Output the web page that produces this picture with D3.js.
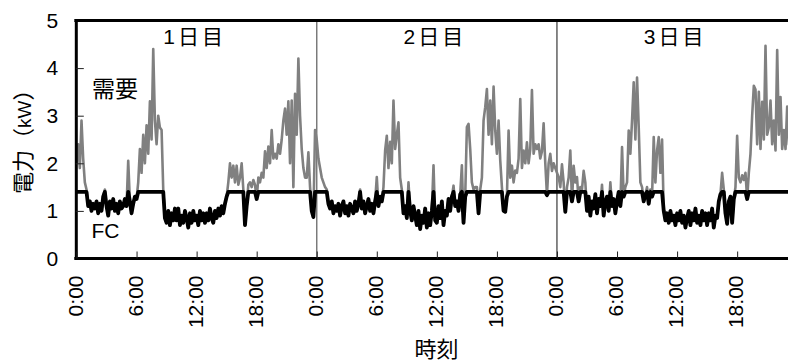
<!DOCTYPE html>
<html>
<head>
<meta charset="utf-8">
<script src="https://cdn.jsdelivr.net/npm/d3@7"></script>
<style>
  html, body { margin: 0; padding: 0; background: #fff; }
  svg { display: block; }
</style>
</head>
<body>
<svg id="chart" width="788" height="361"></svg>
<script>
// ---- data: 10-minute samples (6 per hour), one row per hour ----
const samplesPerHour = 6;
const dayLabels = ["1日目", "2日目", "3日目"];
const hourTicks = [0, 6, 12, 18];
const hourTickLabels = ["0:00", "6:00", "12:00", "18:00"];
const yTicks = [0, 1, 2, 3, 4, 5];
const yTitle = ["電力（", "kW", "）"];
const xTitle = "時刻";
const seriesNames = ["需要", "FC"];

// 需要 (demand), kW
const demandDay1 = [
  2.0, 2.4, 1.9, 2.9, 2.1, 1.6,
  1.45, 1.1, 1.2, 1.0, 1.15, 1.05,
  1.2, 0.95, 1.15, 1.0, 1.3, 1.45,
  1.1, 0.9, 1.2, 1.05, 1.25, 1.0,
  1.15, 0.95, 1.2, 1.05, 1.1, 1.25,
  1.1, 2.05, 1.2, 0.95, 1.15, 1.3,
  1.25, 1.6, 2.3, 1.8, 2.6, 2.0,
  2.8, 2.2, 3.3, 2.5, 4.4, 2.9,
  2.4, 3.0, 2.75, 2.7, 1.45, 0.85,
  0.75, 1.0, 0.7, 0.95, 0.8, 1.05,
  0.8, 1.05, 0.7, 0.9, 0.75, 1.0,
  0.85, 0.65, 0.95, 0.75, 1.0, 0.8,
  0.9, 0.7, 1.0, 0.8, 0.95, 0.75,
  0.95, 0.8, 1.05, 0.85, 0.75, 1.0,
  0.85, 1.05, 0.9, 1.1, 0.95, 1.15,
  1.3, 1.6, 2.0, 1.7, 1.95, 1.6,
  1.95, 1.55, 1.7, 2.0, 1.45, 0.7,
  1.1, 1.55, 1.6, 1.5, 1.65, 1.55,
  1.25, 1.7, 1.6, 1.8, 1.7, 2.25,
  1.9, 2.35, 2.0, 2.7, 2.1, 2.2,
  2.1, 2.4, 2.2, 2.5, 2.9, 3.15,
  2.6, 3.3, 2.0, 3.32, 1.5, 3.46,
  2.6, 4.2, 3.0, 2.3, 1.9, 1.7,
  1.7, 2.23, 1.5, 1.0, 0.87, 2.7
];
const demandDay2 = [
  2.5, 2.1, 1.9, 1.7, 1.6, 1.5,
  1.45, 1.15, 1.05, 1.2, 0.95, 1.1,
  1.0, 1.15, 0.9, 1.1, 1.2, 0.95,
  1.1, 0.9, 1.15, 1.05, 0.95, 1.2,
  1.0, 1.15, 1.45, 1.05, 1.2, 0.95,
  1.1, 1.25, 1.0, 1.15, 0.95, 1.2,
  1.71, 1.1, 1.3, 1.2, 1.5, 2.27,
  2.58, 1.9, 2.45, 2.0, 3.32, 2.3,
  2.6, 2.86, 1.7, 1.45, 0.95, 1.1,
  0.85, 1.6, 1.0, 0.8, 1.1, 0.9,
  0.7, 1.0, 0.62, 0.9, 0.75, 1.05,
  0.65, 0.95, 0.7, 1.0, 1.96, 0.8,
  0.75, 1.1, 0.85, 1.2, 0.7, 1.0,
  0.9, 1.25, 1.0, 1.3, 1.53, 1.1,
  1.2, 1.0, 1.35, 1.96, 0.75, 1.3,
  2.76, 2.83, 2.3, 1.6, 1.45, 1.5,
  1.5, 0.95, 1.45, 1.7, 2.9, 3.18,
  3.56, 2.6, 3.32, 2.4, 3.61, 2.69,
  2.2, 2.9, 2.06, 1.5, 1.0, 0.98,
  1.3, 2.69, 1.7, 1.95, 1.6, 1.85,
  1.8, 2.1, 3.35, 1.9, 2.27, 2.0,
  2.44, 2.0, 2.3, 3.54, 2.2, 2.4,
  2.3, 2.4, 2.1, 2.25, 2.84, 2.0,
  1.33, 2.0, 2.2, 1.84, 2.0, 1.9
];
const demandDay3 = [
  1.8, 1.71, 1.5, 1.98, 1.6, 0.98,
  1.5, 1.7, 2.27, 1.2, 1.95, 1.6,
  1.71, 1.2, 1.5, 1.45, 1.84, 1.6,
  1.0, 1.3, 0.9, 1.2, 1.05, 1.35,
  0.95, 1.25, 1.1, 1.55, 0.9, 1.2,
  1.3, 1.0, 1.6, 1.1, 1.25, 0.95,
  1.2, 1.4, 1.1, 2.34, 1.3, 1.5,
  1.6, 2.69, 2.2, 2.9, 3.7, 2.5,
  3.8, 2.76, 1.6, 1.5, 1.2, 1.35,
  1.5, 1.15, 1.45, 1.3, 2.55, 1.6,
  2.27, 2.55, 1.8, 2.5, 1.0, 0.8,
  0.95, 0.75, 1.0, 0.8, 0.9, 0.7,
  0.95, 0.8, 1.0, 0.75, 0.9, 0.65,
  0.85, 1.0, 0.7, 0.95, 0.8, 1.05,
  0.75, 0.9, 0.7, 1.0, 0.8, 0.95,
  0.7, 0.95, 0.8, 1.05, 0.65, 0.9,
  0.85, 1.2, 1.35, 1.8, 1.45, 0.95,
  0.73, 1.2, 1.3, 0.75, 1.25, 1.5,
  2.58, 1.7, 1.6, 1.75, 1.65, 1.8,
  1.25, 1.8, 2.2, 3.0, 3.63, 3.55,
  2.4, 3.5, 2.3, 3.29, 2.5, 4.47,
  2.6, 2.76, 3.32, 2.4, 2.9, 2.27,
  4.38, 2.6, 3.39, 2.3, 2.7, 2.3,
  3.19, 2.4, 2.3, 2.5, 2.2, 2.3
];

// FC output, kW
const fcDay1 = [
  1.4, 1.4, 1.4, 1.4, 1.4, 1.4,
  1.4, 1.1, 1.2, 1.0, 1.15, 1.05,
  1.2, 0.95, 1.15, 1.0, 1.3, 1.4,
  1.1, 0.9, 1.2, 1.05, 1.25, 1.0,
  1.15, 0.95, 1.2, 1.05, 1.1, 1.25,
  1.1, 1.4, 1.2, 0.95, 1.15, 1.3,
  1.25, 1.4, 1.4, 1.4, 1.4, 1.4,
  1.4, 1.4, 1.4, 1.4, 1.4, 1.4,
  1.4, 1.4, 1.4, 1.4, 1.4, 0.85,
  0.75, 1.0, 0.7, 0.95, 0.8, 1.05,
  0.8, 1.05, 0.7, 0.9, 0.75, 1.0,
  0.85, 0.65, 0.95, 0.75, 1.0, 0.8,
  0.9, 0.7, 1.0, 0.8, 0.95, 0.75,
  0.95, 0.8, 1.05, 0.85, 0.75, 1.0,
  0.85, 1.05, 0.9, 1.1, 0.95, 1.15,
  1.3, 1.4, 1.4, 1.4, 1.4, 1.4,
  1.4, 1.4, 1.4, 1.4, 1.4, 0.7,
  1.1, 1.4, 1.4, 1.4, 1.4, 1.4,
  1.25, 1.4, 1.4, 1.4, 1.4, 1.4,
  1.4, 1.4, 1.4, 1.4, 1.4, 1.4,
  1.4, 1.4, 1.4, 1.4, 1.4, 1.4,
  1.4, 1.4, 1.4, 1.4, 1.4, 1.4,
  1.4, 1.4, 1.4, 1.4, 1.4, 1.4,
  1.4, 1.4, 1.4, 1.0, 0.87, 1.4
];
const fcDay2 = [
  1.4, 1.4, 1.4, 1.4, 1.4, 1.4,
  1.4, 1.15, 1.05, 1.2, 0.95, 1.1,
  1.0, 1.15, 0.9, 1.1, 1.2, 0.95,
  1.1, 0.9, 1.15, 1.05, 0.95, 1.2,
  1.0, 1.15, 1.4, 1.05, 1.2, 0.95,
  1.1, 1.25, 1.0, 1.15, 0.95, 1.2,
  1.4, 1.1, 1.3, 1.2, 1.4, 1.4,
  1.4, 1.4, 1.4, 1.4, 1.4, 1.4,
  1.4, 1.4, 1.4, 1.4, 0.95, 1.1,
  0.85, 1.4, 1.0, 0.8, 1.1, 0.9,
  0.7, 1.0, 0.62, 0.9, 0.75, 1.05,
  0.65, 0.95, 0.7, 1.0, 1.4, 0.8,
  0.75, 1.1, 0.85, 1.2, 0.7, 1.0,
  0.9, 1.25, 1.0, 1.3, 1.4, 1.1,
  1.2, 1.0, 1.35, 1.4, 0.75, 1.3,
  1.4, 1.4, 1.4, 1.4, 1.4, 1.4,
  1.4, 0.95, 1.4, 1.4, 1.4, 1.4,
  1.4, 1.4, 1.4, 1.4, 1.4, 1.4,
  1.4, 1.4, 1.4, 1.4, 1.0, 0.98,
  1.3, 1.4, 1.4, 1.4, 1.4, 1.4,
  1.4, 1.4, 1.4, 1.4, 1.4, 1.4,
  1.4, 1.4, 1.4, 1.4, 1.4, 1.4,
  1.4, 1.4, 1.4, 1.4, 1.4, 1.4,
  1.33, 1.4, 1.4, 1.4, 1.4, 1.4
];
const fcDay3 = [
  1.4, 1.4, 1.4, 1.4, 1.4, 0.98,
  1.4, 1.4, 1.4, 1.2, 1.4, 1.4,
  1.4, 1.2, 1.4, 1.4, 1.4, 1.4,
  1.0, 1.3, 0.9, 1.2, 1.05, 1.35,
  0.95, 1.25, 1.1, 1.4, 0.9, 1.2,
  1.3, 1.0, 1.4, 1.1, 1.25, 0.95,
  1.2, 1.4, 1.1, 1.4, 1.3, 1.4,
  1.4, 1.4, 1.4, 1.4, 1.4, 1.4,
  1.4, 1.4, 1.4, 1.4, 1.2, 1.35,
  1.4, 1.15, 1.4, 1.3, 1.4, 1.4,
  1.4, 1.4, 1.4, 1.4, 1.0, 0.8,
  0.95, 0.75, 1.0, 0.8, 0.9, 0.7,
  0.95, 0.8, 1.0, 0.75, 0.9, 0.65,
  0.85, 1.0, 0.7, 0.95, 0.8, 1.05,
  0.75, 0.9, 0.7, 1.0, 0.8, 0.95,
  0.7, 0.95, 0.8, 1.05, 0.65, 0.9,
  0.85, 1.2, 1.35, 1.4, 1.4, 0.95,
  0.73, 1.2, 1.3, 0.75, 1.25, 1.4,
  1.4, 1.4, 1.4, 1.4, 1.4, 1.4,
  1.25, 1.4, 1.4, 1.4, 1.4, 1.4,
  1.4, 1.4, 1.4, 1.4, 1.4, 1.4,
  1.4, 1.4, 1.4, 1.4, 1.4, 1.4,
  1.4, 1.4, 1.4, 1.4, 1.4, 1.4,
  1.4, 1.4, 1.4, 1.4, 1.4, 1.4
];

const demand = [...demandDay1, ...demandDay2, ...demandDay3];
const fc = [...fcDay1, ...fcDay2, ...fcDay3];
const nDays = dayLabels.length;
const totalHours = nDays * 24;

// ---- layout ----
const svg = d3.select("#chart");
const plot = { left: 76.5, right: 797.2, top: 20.5, bottom: 258.5 };
const latin = "'Liberation Sans', Arial, sans-serif";
const cjk = "'Liberation Sans', 'Noto Sans CJK JP', sans-serif";

const x = d3.scaleLinear().domain([0, totalHours]).range([plot.left, plot.right]);
const y = d3.scaleLinear().domain([0, 5]).range([plot.bottom, plot.top]);

const demandPts = demand.map((v, i) => [i / samplesPerHour, v]);
const fcPts = fc.map((v, i) => [i / samplesPerHour, v]);

// day separators
for (let d = 1; d < nDays; d++) {
  svg.append("line")
    .attr("x1", x(d * 24)).attr("x2", x(d * 24))
    .attr("y1", plot.top).attr("y2", plot.bottom)
    .attr("stroke", d === 1 ? "#7a7a7a" : "#111")
    .attr("stroke-width", d === 1 ? 1.5 : 1);
}

// series
const line = d3.line().x(p => x(p[0])).y(p => y(p[1]));
svg.append("path").datum(demandPts)
  .attr("d", line).attr("fill", "none")
  .attr("stroke", "#808080").attr("stroke-width", 2.6)
  .attr("stroke-linejoin", "round");
svg.append("path").datum(fcPts)
  .attr("d", line).attr("fill", "none")
  .attr("stroke", "#000").attr("stroke-width", 3.8)
  .attr("stroke-linejoin", "round");

// y axis (ticks point inward)
const yAxis = svg.append("g")
  .attr("transform", `translate(${plot.left - 0.7},0)`)
  .call(d3.axisLeft(y).tickValues(yTicks).tickSizeInner(-8).tickSizeOuter(0).tickPadding(18)
    .tickFormat(d3.format("d")));
yAxis.select(".domain").attr("stroke", "#000").attr("stroke-width", 3);
yAxis.selectAll(".tick line").attr("stroke", "#222").attr("stroke-width", 1);
yAxis.selectAll(".tick text")
  .attr("font-family", latin).attr("font-size", 21).attr("fill", "#000")
  .attr("x", -17.5);

// x axis (ticks point inward, labels rotated)
const xTickVals = [];
const xTickText = new Map();
for (let d = 0; d < nDays; d++) {
  hourTicks.forEach((h, k) => {
    xTickVals.push(d * 24 + h);
    xTickText.set(d * 24 + h, hourTickLabels[k]);
  });
}
const xAxis = svg.append("g")
  .attr("transform", `translate(0,${plot.bottom})`)
  .call(d3.axisBottom(x).tickValues(xTickVals).tickSizeInner(-7).tickSizeOuter(0)
    .tickFormat(v => xTickText.get(v)));
xAxis.select(".domain").attr("stroke", "#000").attr("stroke-width", 3)
  .attr("d", `M${plot.left - 2.2},0H788`);
xAxis.selectAll(".tick line").attr("stroke", "#222").attr("stroke-width", 1);
xAxis.selectAll(".tick text")
  .attr("font-family", latin).attr("font-size", 21).attr("fill", "#000")
  .attr("text-anchor", "end")
  .attr("dy", null)
  .attr("transform", "translate(0,17) rotate(-90)")
  .attr("x", 0).attr("y", 5.5);

// top border
svg.append("line")
  .attr("x1", plot.left - 2.2).attr("x2", 788)
  .attr("y1", plot.top).attr("y2", plot.top)
  .attr("stroke", "#000").attr("stroke-width", 3);

// day labels
dayLabels.forEach((lab, d) => {
  svg.append("text")
    .attr("x", x(d * 24 + 12) - 2).attr("y", 43.5)
    .attr("text-anchor", "middle")
    .attr("font-family", cjk).attr("font-size", 21)
    .attr("letter-spacing", 3)
    .text(lab);
});

// series labels
svg.append("text")
  .attr("x", 92).attr("y", 96.5)
  .attr("font-family", cjk).attr("font-size", 23)
  .text(seriesNames[0]);
svg.append("text")
  .attr("x", 91.5).attr("y", 238)
  .attr("font-family", latin).attr("font-size", 21)
  .text(seriesNames[1]);

// axis titles
const yt = svg.append("text")
  .attr("transform", "translate(30.5,194) rotate(-90)")
  .attr("font-family", cjk).attr("font-size", 22);
yt.append("tspan").text(yTitle[0]);
yt.append("tspan").attr("font-size", 19).text(yTitle[1]);
yt.append("tspan").text(yTitle[2]);

svg.append("text")
  .attr("x", 436.5).attr("y", 356.5)
  .attr("text-anchor", "middle")
  .attr("font-family", cjk).attr("font-size", 22)
  .text(xTitle);
</script>
</body>
</html>
